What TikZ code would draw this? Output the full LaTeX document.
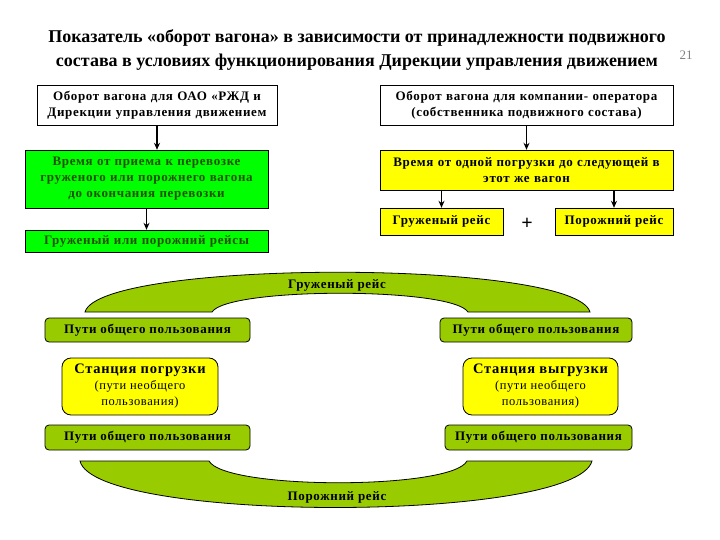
\documentclass[tikz,border=0pt]{standalone}
\usepackage{fontspec}
\setmainfont{Liberation Serif}
\newfontfamily\widefont[LetterSpace=5]{Liberation Serif}
\usepackage{tikz}
\usetikzlibrary{arrows.meta,positioning}
\definecolor{brgreen}{HTML}{00FF00}
\definecolor{bryellow}{HTML}{FFFF00}
\definecolor{olive}{HTML}{99CC00}
\definecolor{darkgrn}{HTML}{234F00}
\tikzset{
  card/.style={draw, rectangle, fill=white, font=\widefont\fontsize{13}{16}\selectfont\bfseries, align=center, inner sep=2pt},
  grn/.style={card, fill=brgreen, text=darkgrn},
  yel/.style={card, fill=bryellow},
  track/.style={draw, thick, rounded corners=4pt, fill=olive, font=\widefont\fontsize{13}{15}\selectfont\bfseries, inner sep=2pt},
  stn/.style={draw, thick, rounded corners=9pt, fill=bryellow, font=\widefont\fontsize{12.5}{16}\selectfont, align=center, inner sep=2pt},
  arr/.style={-{Stealth[length=7pt,width=6pt]}, line width=1.1pt},
  band/.style={draw, thick, fill=olive},
  bandlbl/.style={font=\widefont\fontsize{13}{15}\selectfont\bfseries}
}
\newcommand{\stname}[1]{{\fontsize{14.5}{17}\selectfont\bfseries #1}}

\begin{document}
\begin{tikzpicture}[x=1pt, y=-1pt]
\useasboundingbox (0,0) rectangle (720,540);
\node[font=\fontsize{18}{24}\selectfont\bfseries, align=center] (title) at (357,50)
  {Показатель «оборот вагона» в зависимости от принадлежности подвижного\\
   состава в условиях функционирования Дирекции управления движением};
\node[font=\fontsize{13}{14}\selectfont, text=gray] (pg) at (686,55) {21};
% upper part
\node[card, minimum width=240pt, minimum height=40pt, text width=236pt] (rzd) at (157,105)
  {Оборот вагона для ОАО «РЖД и\\ Дирекции управления движением};
\node[card, minimum width=293pt, minimum height=40pt, text width=289pt] (oper) at (526.5,105)
  {Оборот вагона для компании- оператора\\ (собственника подвижного состава)};
\node[grn, minimum width=243pt, minimum height=58pt, text width=239pt] (tm1) at (146.5,179)
  {Время от приема к перевозке\\ груженого или порожнего вагона\\ до окончания перевозки};
\node[grn, minimum width=243pt, minimum height=22pt, text width=239pt] (rs) at (146.5,241)
  {Груженый или порожний рейсы};
\node[yel, minimum width=293pt, minimum height=40pt, text width=289pt] (tm2) at (526.5,170)
  {Время от одной погрузки до следующей в\\ этот же вагон};
\node[yel, minimum width=123pt, minimum height=27pt] (gr) at (441.5,221.5) {Груженый рейс};
\node[yel, minimum width=118pt, minimum height=27pt] (por) at (614,221.5) {Порожний рейс};
\node[font=\fontsize{20}{20}\selectfont\bfseries] (plus) at (527,224) {+};
\draw[arr] (rzd) -- (rzd.south |- tm1.north);
\draw[arr] (oper) -- (tm2);
\draw[arr] (tm1) -- (rs);
\draw[arr] (gr.north |- tm2.south) -- (gr);
\draw[arr] (por.north |- tm2.south) -- (por);
% cycle of a wagon
\draw[band] (85,312) .. controls (100,259) and (575,259) .. (590,312)
  -- (468,312) .. controls (452,287) and (228,287) .. (212,312) -- cycle;
\node[bandlbl] (load) at (337,285) {Груженый рейс};
\draw[band] (80,461) .. controls (95,523) and (575,523) .. (592,461)
  -- (467,461) .. controls (452,490) and (225,490) .. (209,461) -- cycle;
\node[bandlbl] (empty) at (337,497) {Порожний рейс};
\node[track, minimum width=205pt, minimum height=24pt] (tl) at (147.5,330) {Пути общего пользования};
\node[track, minimum width=192pt, minimum height=24pt] (tr) at (536,330) {Пути общего пользования};
\node[stn, minimum width=156pt, minimum height=57pt] (stl) at (140,386.5)
  {\stname{Станция погрузки}\\ (пути необщего\\ пользования)};
\node[stn, minimum width=155pt, minimum height=57pt] (str) at (540.5,386.5)
  {\stname{Станция выгрузки}\\ (пути необщего\\ пользования)};
\node[track, minimum width=205pt, minimum height=25pt] (bl) at (147.5,437.5) {Пути общего пользования};
\node[track, minimum width=187pt, minimum height=25pt] (br) at (538.5,437.5) {Пути общего пользования};
\end{tikzpicture}
\end{document}
